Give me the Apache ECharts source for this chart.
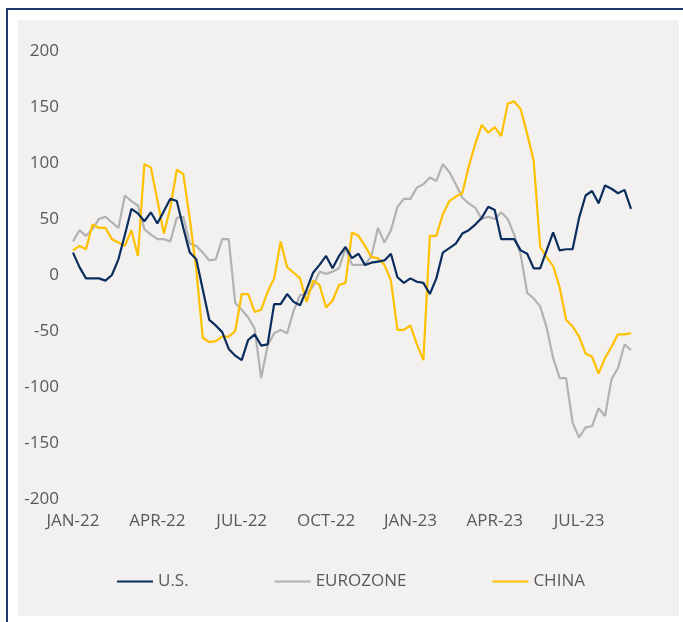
<!DOCTYPE html>
<html>
<head>
<meta charset="utf-8">
<title>PMI surprise</title>
<script src="https://cdn.jsdelivr.net/npm/echarts@6/dist/echarts.min.js"></script>
<style>
    html, body { margin: 0; padding: 0; background: #ffffff; }
    .frame {
        position: absolute; left: 6px; top: 8px; width: 800px; height: 700px;
        border-left: 2px solid #1c3a6b; border-top: 2px solid #1c3a6b;
    }
    .panel {
        position: absolute; left: 18px; top: 20px; width: 661px; height: 596px;
        background: #f2f1ef;
    }
    #main { position: absolute; left: 0; top: 0; width: 683px; height: 622px; }
</style>
</head>
<body>
<div class="frame"></div>
<div class="panel"></div>
<div id="main"></div>
<script>
// weekly readings, first week of Jan-22 .. end of Aug-23
var usData = [20, 7, -3, -3, -3, -5, 0, 14, 36, 59, 55, 48, 56, 46, 57, 68, 66, 42, 20, 14,
    -13, -40, -45, -51, -66, -72, -76, -58, -53, -63, -62, -26, -26, -17, -24, -27, -13, 2, 9, 17,
    6, 17, 25, 15, 19, 9, 11, 12, 13, 19, -2, -7, -3, -6, -7, -17, -3, 20, 24, 28,
    37, 40, 45, 51, 61, 58, 32, 32, 32, 22, 19, 6, 6, 22, 38, 22, 23, 23, 51, 71,
    75, 64, 80, 77, 73, 76, 59];
var euroData = [30, 40, 35, 41, 50, 52, 47, 42, 71, 66, 62, 41, 36, 32, 32, 30, 51, 52, 28, 26,
    20, 13, 14, 32, 32, -25, -31, -38, -48, -92, -63, -52, -49, -52, -32, -18, -17, -10, 3, 1,
    3, 6, 24, 9, 9, 9, 17, 42, 29, 40, 61, 68, 68, 78, 81, 87, 84, 99, 92, 81,
    69, 64, 60, 50, 52, 50, 56, 50, 36, 18, -16, -21, -28, -47, -74, -92, -92, -132, -145, -136,
    -135, -119, -126, -93, -83, -62, -67];
var chinaData = [22, 26, 23, 45, 42, 42, 32, 29, 26, 40, 17, 99, 96, 67, 37, 60, 94, 90, 50, 5,
    -56, -60, -59, -55, -55, -50, -17, -17, -33, -31, -15, -3, 30, 7, 2, -3, -24, -5, -9, -29,
    -23, -9, -7, 38, 35, 26, 16, 15, 9, -5, -49, -49, -45, -62, -76, 35, 35, 54, 66, 70,
    73, 97, 117, 134, 127, 132, 124, 153, 155, 148, 126, 102, 25, 16, 8, -11, -40, -46, -55, -70,
    -73, -88, -74, -64, -53, -53, -52];

var seriesNames = ['U.S.', 'EUROZONE', 'CHINA'];
var seriesColors = ['#0a2d5e', '#b2b2b2', '#ffc000'];

// quarter starts, counted in weeks
var tickWeeks = [0, 13, 26, 39, 52, 65, 78];
var tickLabels = ['JAN-22', 'APR-22', 'JUL-22', 'OCT-22', 'JAN-23', 'APR-23', 'JUL-23'];

function toPoints(arr) {
    return arr.map(function (v, i) { return [i, v]; });
}

var myChart = echarts.init(document.getElementById('main'), null, {renderer: 'canvas'});
var labelFont = {
    color: '#595959',
    fontSize: 17,
    fontFamily: '"Open Sans", sans-serif'
};

var option = {
    animation: false,
    grid: {left: 73, right: 52, top: 51, bottom: 123},
    legend: {
        left: 112,
        top: 568,
        icon: 'path://M0,0 L36,0 L36,2 L0,2 Z',
        itemWidth: 36,
        itemHeight: 2,
        itemGap: 86,
        data: seriesNames,
        textStyle: labelFont
    },
    xAxis: {
        type: 'value',
        min: 0,
        max: usData.length - 1,
        axisLine: {show: false},
        axisTick: {show: false},
        splitLine: {show: false},
        axisLabel: Object.assign({
            margin: 14,
            customValues: tickWeeks,
            formatter: function (v) {
                var k = tickWeeks.indexOf(v);
                return k >= 0 ? tickLabels[k] : '';
            }
        }, labelFont)
    },
    yAxis: {
        type: 'value',
        min: -200,
        max: 200,
        interval: 50,
        axisLine: {show: false},
        axisTick: {show: false},
        splitLine: {show: false},
        axisLabel: Object.assign({margin: 14}, labelFont)
    },
    series: [usData, euroData, chinaData].map(function (arr, k) {
        return {
            name: seriesNames[k],
            type: 'line',
            symbol: 'none',
            data: toPoints(arr),
            color: seriesColors[k],
            lineStyle: {width: 2.2, color: seriesColors[k]},
            z: k === 0 ? 4 : 3
        };
    })
};
myChart.setOption(option);
</script>
</body>
</html>
